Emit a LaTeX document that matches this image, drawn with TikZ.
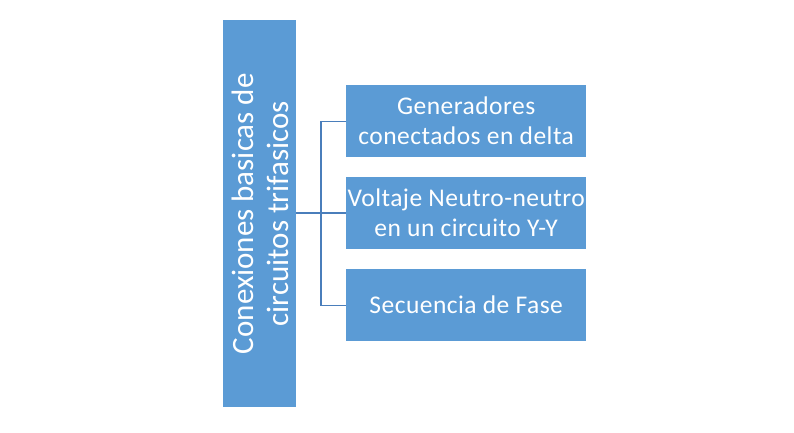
\documentclass[tikz,border=0pt]{standalone}
\usepackage{fontspec}
\setmainfont{Carlito}
\newfontfamily\boxfont[LetterSpace=1.8]{Carlito}
\definecolor{boxblue}{HTML}{5B9BD5}
\definecolor{lineblue}{HTML}{4A7EBB}
\begin{document}
\begin{tikzpicture}[x=1pt,y=-1pt,
  bluebox/.style={fill=boxblue,draw=none,text=white,inner sep=0pt,align=center,
    font=\boxfont\fontsize{25.5}{30}\selectfont},
  conn/.style={draw=lineblue,line width=1.1pt}]
\useasboundingbox (0,0) rectangle (794,433);
\node[fill=boxblue,inner sep=0pt,minimum width=73pt,minimum height=387pt,anchor=north west] (root) at (223,20) {};
\node[rotate=90,text=white,align=center,inner sep=0pt,font=\fontsize{31}{35}\selectfont] (roottxt) at ([xshift=1pt]root.center) {Conexiones basicas de\\circuitos trifasicos};
\node[bluebox,minimum width=240pt,minimum height=72pt,anchor=north west] (a) at (346,85) {Generadores\\conectados en delta};
\node[bluebox,minimum width=240pt,minimum height=72pt,anchor=north west] (b) at (346,177) {Voltaje Neutro-neutro\\en un circuito Y-Y};
\node[bluebox,minimum width=240pt,minimum height=72pt,anchor=north west] (c) at (346,269) {Secuencia de Fase};
\coordinate (j) at (321,213);
\draw[conn] (root.east |- j) -- (b.west |- j);
\draw[conn] (a.west) -| (j) |- (c.west);
\end{tikzpicture}
\end{document}
